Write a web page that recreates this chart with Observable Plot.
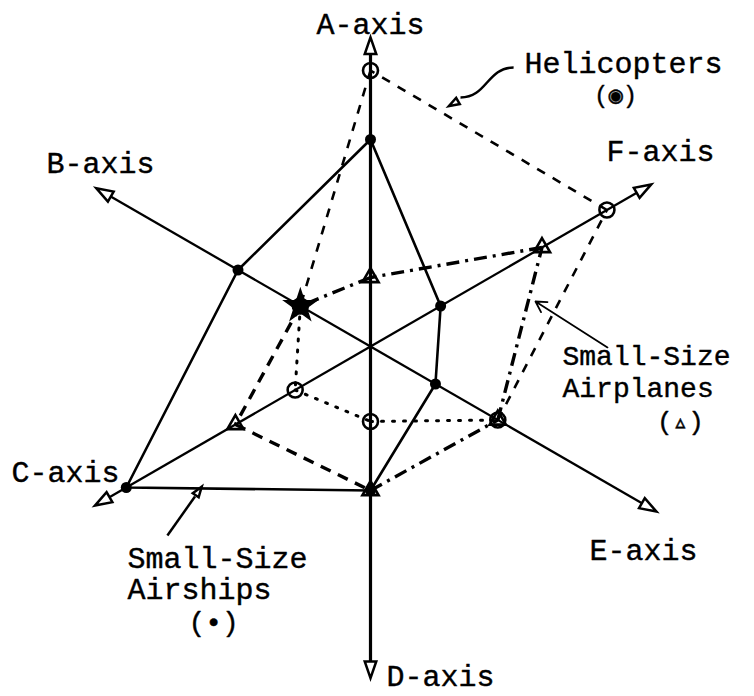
<!DOCTYPE html>
<html><head><meta charset="utf-8">
<script src="https://cdn.jsdelivr.net/npm/d3@7"></script>
<script src="https://cdn.jsdelivr.net/npm/@observablehq/plot@0.6"></script>
<style>html,body{margin:0;padding:0;background:#fff}</style>
</head><body><div id="chart"></div>
<script>
// Axes (regular hexagonal radar), values in arbitrary radial units
const axes = ["A", "B", "C", "D", "E", "F"];
const axisLabels = ["A-axis", "B-axis", "C-axis", "D-axis", "E-axis", "F-axis"];
const axisAngles = [90, 150, 210, 270, 330, 30];
const axisLengths = [9.75, 10.0, 10.05, 10.5, 10.45, 10.25];

// Series values along A..F
const airships    = [6.9, 5.1, 9.4, 4.8, 2.5, 2.7];
const helicopters = [9.2, 2.7, 2.9, 2.5, 4.9, 9.1];
const airplanes   = [2.3, 2.7, 5.2, 4.8, 4.9, 6.6];

// line type of each segment starting at A, B, C, D, E, F
const helicopterSegments = ["dash", "dot", "dot", "dot", "dash", "dash"];
const airplaneSegments   = ["dashdot", "dash", "dash", "dashdot", "dashdot", "dashdot"];
const starMarkerAxis = "B"; // airplane & helicopter coincide here (drawn as a star)

const rad = d => d * Math.PI / 180;
const polar = (r, i) => ({axis: axes[i], x: r * Math.cos(rad(axisAngles[i])), y: r * Math.sin(rad(axisAngles[i]))});
const pts = vals => vals.map((v, i) => polar(v, i));
const segs = (vals, kinds) => {
  const p = pts(vals);
  return p.map((d, i) => ({x1: d.x, y1: d.y, x2: p[(i + 1) % 6].x, y2: p[(i + 1) % 6].y, kind: kinds[i]}));
};

// elongated open arrowhead symbol (tip up before rotation)
const arrowHead = {
  draw(ctx, size) {
    const r = Math.sqrt(size / Math.PI);
    ctx.moveTo(0, -1.3 * r);
    ctx.lineTo(0.72 * r, 0.8 * r);
    ctx.lineTo(-0.72 * r, 0.8 * r);
    ctx.closePath();
  }
};

const axisData = axes.map((a, i) => ({
  axis: a,
  x2: axisLengths[i] * Math.cos(rad(axisAngles[i])),
  y2: axisLengths[i] * Math.sin(rad(axisAngles[i])),
  hx: (axisLengths[i] + 0.21) * Math.cos(rad(axisAngles[i])),
  hy: (axisLengths[i] + 0.21) * Math.sin(rad(axisAngles[i])),
  rot: 90 - axisAngles[i],
  thick: (a === "A" || a === "D")
}));

const shipPts = pts(airships);
const heliPts = pts(helicopters);
const planePts = pts(airplanes);
const heliSegs = segs(helicopters, helicopterSegments);
const planeSegs = segs(airplanes, airplaneSegments);

const font = "'Liberation Mono', 'DejaVu Sans Mono', monospace";
const txt = {fontSize: 30, fill: "black", fontFamily: font, lineAnchor: "middle", stroke: "black", strokeWidth: 0.4};

const chart = Plot.plot({
  width: 754,
  height: 696,
  margin: 0,
  x: {domain: [-370 / 30, 384 / 30], axis: null},
  y: {domain: [-350 / 30, 346 / 30], axis: null},
  style: {background: "white", fontFamily: font},
  marks: [
    // axes
    Plot.link(axisData.filter(d => !d.thick), {x1: 0, y1: 0, x2: "x2", y2: "y2", stroke: "black", strokeWidth: 2.3}),
    Plot.link(axisData.filter(d => d.thick), {x1: 0, y1: 0, x2: "x2", y2: "y2", stroke: "black", strokeWidth: 3.2}),
    Plot.dot(axisData, {x: "hx", y: "hy", symbol: arrowHead, r: 8, rotate: "rot", fill: "white", stroke: "black", strokeWidth: 2.5}),

    // Small-Size Airships: solid
    Plot.line([...shipPts, shipPts[0]], {x: "x", y: "y", stroke: "black", strokeWidth: 2.6}),
    // Helicopters: dashed / dotted
    Plot.link(heliSegs.filter(d => d.kind === "dash"), {x1: "x1", y1: "y1", x2: "x2", y2: "y2", stroke: "black", strokeWidth: 2.6, strokeDasharray: "9,9"}),
    Plot.link(heliSegs.filter(d => d.kind === "dot"), {x1: "x1", y1: "y1", x2: "x2", y2: "y2", stroke: "black", strokeWidth: 3, strokeDasharray: "2,9", strokeLinecap: "round"}),
    // Small-Size Airplanes: dash-dot / dash
    Plot.link(planeSegs.filter(d => d.kind === "dashdot"), {x1: "x1", y1: "y1", x2: "x2", y2: "y2", stroke: "black", strokeWidth: 3.4, strokeDasharray: "13,6,3,6"}),
    Plot.link(planeSegs.filter(d => d.kind === "dash"), {x1: "x1", y1: "y1", x2: "x2", y2: "y2", stroke: "black", strokeWidth: 3.4, strokeDasharray: "11,8"}),

    // markers
    Plot.dot(heliPts, {x: "x", y: "y", r: 7.5, fill: "none", stroke: "black", strokeWidth: 2.6}),
    Plot.dot(planePts.filter(d => d.axis !== starMarkerAxis), {x: "x", y: "y", symbol: "triangle", r: 6, fill: "none", stroke: "black", strokeWidth: 2.6}),
    Plot.dot(planePts.filter(d => d.axis === starMarkerAxis), {x: "x", y: "y", symbol: "star", r: 10, fill: "black", stroke: "black"}),
    Plot.dot(shipPts, {x: "x", y: "y", r: 5.5, fill: "black"}),

    // axis labels
    Plot.text(["A-axis"], {x: 0, y: 10.75, ...txt}),
    Plot.text(["B-axis"], {x: -9.0, y: 6.12, ...txt}),
    Plot.text(["C-axis"], {x: -10.17, y: -4.21, ...txt}),
    Plot.text(["D-axis"], {x: 2.33, y: -11.0, ...txt}),
    Plot.text(["E-axis"], {x: 9.1, y: -6.81, ...txt}),
    Plot.text(["F-axis"], {x: 9.67, y: 6.52, ...txt}),

    // series annotations
    Plot.text(["Helicopters"], {x: 8.43, y: 9.45, ...txt}),
    Plot.text(["(◉)"], {x: 8.17, y: 8.37, ...txt, fontSize: 24}),
    Plot.link([0], {x1: 4.77, y1: 9.3, x2: 3.0, y2: 8.3, stroke: "black", strokeWidth: 2.5, curve: "bump-x"}),
    Plot.dot([0], {x: 2.8, y: 8.12, symbol: arrowHead, r: 5, rotate: -120, fill: "white", stroke: "black", strokeWidth: 2.5}),

    Plot.text(["Small-Size"], {x: 6.4, y: -0.32, ...txt, fontSize: 28, textAnchor: "start"}),
    Plot.text(["Airplanes"], {x: 6.4, y: -1.38, ...txt, fontSize: 28, textAnchor: "start"}),
    Plot.text(["(▵)"], {x: 10.33, y: -2.5, ...txt, fontSize: 26}),
    Plot.arrow([0], {x1: 7.9, y1: -0.03, x2: 5.5, y2: 1.5, stroke: "black", strokeWidth: 1.8, headLength: 10}),

    Plot.text(["Small-Size"], {x: -8.1, y: -7.05, ...txt, textAnchor: "start"}),
    Plot.text(["Airships"], {x: -8.1, y: -8.08, ...txt, textAnchor: "start"}),
    Plot.text(["(•)"], {x: -5.23, y: -9.2, ...txt, fontSize: 28}),
    Plot.link([0], {x1: -6.77, y1: -6.3, x2: -5.85, y2: -5.0, stroke: "black", strokeWidth: 2.5}),
    Plot.dot([0], {x: -5.75, y: -4.85, symbol: arrowHead, r: 5, rotate: 35, fill: "white", stroke: "black", strokeWidth: 2.5})
  ]
});
document.getElementById("chart").appendChild(chart);
</script>
</body></html>
